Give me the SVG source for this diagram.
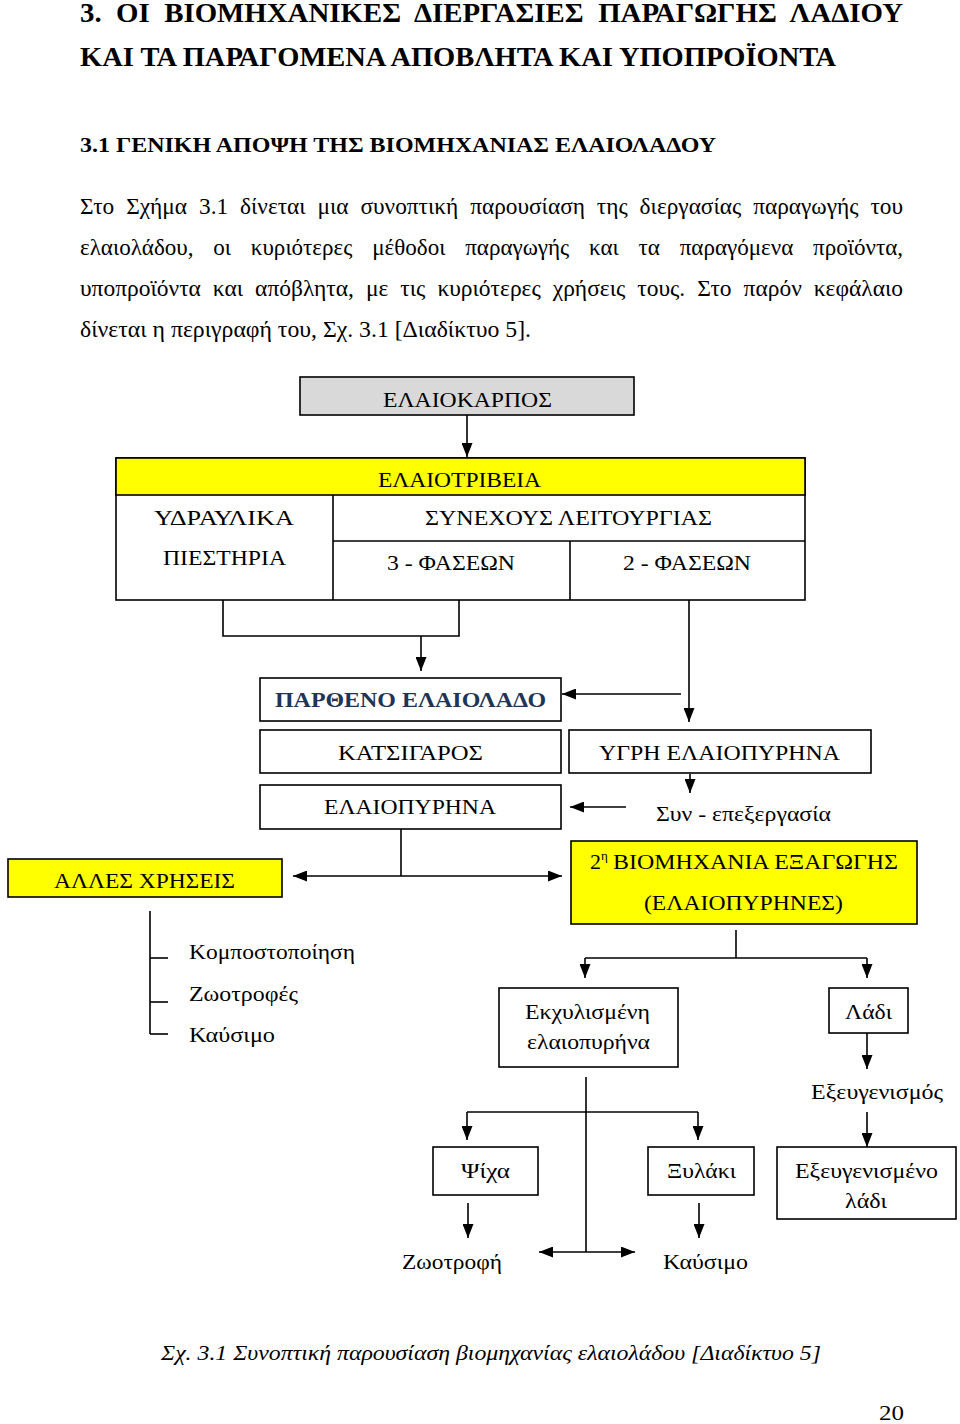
<svg xmlns="http://www.w3.org/2000/svg" width="960" height="1424" viewBox="0 0 960 1424">
<style>
text{font-family:"Liberation Serif","Times New Roman",serif;fill:#000}
.h1{font-size:27px;font-weight:bold;white-space:pre}
.h3{font-size:22px;font-weight:bold}
.p{font-size:23px;word-spacing:6px}
.t{font-size:22px}
.c{font-size:22px;font-style:italic}
.box{fill:#fff;stroke:#000;stroke-width:1.6}
.yel{fill:#ffff00;stroke:#000;stroke-width:1.6}
.gray{fill:#d9d9d9;stroke:#000;stroke-width:1.6}
.ln{fill:none;stroke:#000;stroke-width:1.6}
.ar{fill:none;stroke:#000;stroke-width:1.6;marker-end:url(#ah)}
.navy{fill:#1f3556;font-weight:bold}
</style>
<defs>
<marker id="ah" viewBox="0 0 14 11" refX="14" refY="5.5" markerWidth="14" markerHeight="11" markerUnits="userSpaceOnUse" orient="auto">
<path d="M0,0 L14,5.5 L0,11 z" fill="#000"/>
</marker>
</defs>
<rect width="960" height="1424" fill="#fff"/>

<g id="heading">
<text class="h1" x="80" y="22" textLength="823" lengthAdjust="spacingAndGlyphs" xml:space="preserve">3.  ΟΙ  ΒΙΟΜΗΧΑΝΙΚΕΣ  ΔΙΕΡΓΑΣΙΕΣ  ΠΑΡΑΓΩΓΗΣ  ΛΑΔΙΟΥ</text>
<text class="h1" x="80" y="66" textLength="756" lengthAdjust="spacingAndGlyphs">ΚΑΙ ΤΑ ΠΑΡΑΓΟΜΕΝΑ ΑΠΟΒΛΗΤΑ ΚΑΙ ΥΠΟΠΡΟΪΟΝΤΑ</text>
<text class="h3" x="80" y="152" textLength="636" lengthAdjust="spacingAndGlyphs">3.1 ΓΕΝΙΚΗ ΑΠΟΨΗ ΤΗΣ ΒΙΟΜΗΧΑΝΙΑΣ ΕΛΑΙΟΛΑΔΟΥ</text>
</g>
<g id="paragraph">
<text class="p" x="80" y="214" textLength="823" lengthAdjust="spacingAndGlyphs">Στο Σχήμα 3.1 δίνεται μια συνοπτική παρουσίαση της διεργασίας παραγωγής του</text>
<text class="p" x="80" y="255" textLength="823" lengthAdjust="spacingAndGlyphs" style="word-spacing:14px">ελαιολάδου, οι κυριότερες μέθοδοι παραγωγής και τα παραγόμενα προϊόντα,</text>
<text class="p" x="80" y="296" textLength="823" lengthAdjust="spacingAndGlyphs">υποπροϊόντα και απόβλητα, με τις κυριότερες χρήσεις τους. Στο παρόν κεφάλαιο</text>
<text class="p" x="80" y="337" textLength="451" lengthAdjust="spacingAndGlyphs" style="word-spacing:0">δίνεται η περιγραφή του, Σχ. 3.1 [Διαδίκτυο 5].</text>
</g>

<g id="connectors">
<line class="ar" x1="467" y1="415" x2="467" y2="457"/>
<polyline class="ln" points="223,600 223,636 459,636 459,600"/>
<line class="ar" x1="421" y1="636" x2="421" y2="671"/>
<line class="ar" x1="689" y1="600" x2="689" y2="722"/>
<line class="ar" x1="681" y1="694" x2="562" y2="694"/>
<line class="ar" x1="690" y1="774" x2="690" y2="793"/>
<line class="ar" x1="626" y1="807" x2="570" y2="807"/>
<line class="ln" x1="401" y1="829" x2="401" y2="876"/>
<line class="ar" x1="401" y1="876" x2="293" y2="876"/>
<line class="ar" x1="401" y1="876" x2="562" y2="876"/>
<line class="ln" x1="150" y1="911" x2="150" y2="1034"/>
<line class="ln" x1="150" y1="958" x2="168" y2="958"/>
<line class="ln" x1="150" y1="1002" x2="168" y2="1002"/>
<line class="ln" x1="150" y1="1034" x2="168" y2="1034"/>
<line class="ln" x1="736" y1="930" x2="736" y2="958"/>
<line class="ln" x1="585" y1="958" x2="867" y2="958"/>
<line class="ar" x1="585" y1="958" x2="585" y2="978"/>
<line class="ar" x1="867" y1="958" x2="867" y2="978"/>
<line class="ar" x1="867" y1="1033" x2="867" y2="1069"/>
<line class="ar" x1="867" y1="1112" x2="867" y2="1147"/>
<line class="ln" x1="586" y1="1077" x2="586" y2="1252"/>
<line class="ln" x1="467" y1="1112" x2="698" y2="1112"/>
<line class="ar" x1="467" y1="1112" x2="467" y2="1140"/>
<line class="ar" x1="698" y1="1112" x2="698" y2="1140"/>
<line class="ar" x1="468" y1="1203" x2="468" y2="1238"/>
<line class="ar" x1="699" y1="1203" x2="699" y2="1238"/>
<line class="ar" x1="586" y1="1252" x2="539" y2="1252"/>
<line class="ar" x1="586" y1="1252" x2="635" y2="1252"/>
</g>

<g id="n-elaiokarpos">
<rect class="gray" x="300" y="377" width="334" height="38"/>
<text class="t" x="383" y="407" textLength="169" lengthAdjust="spacingAndGlyphs">ΕΛΑΙΟΚΑΡΠΟΣ</text>
</g>

<g id="n-elaiotriveia">
<rect class="box" x="116" y="458" width="689" height="142"/>
<rect class="yel" x="116" y="458" width="689" height="37"/>
<line class="ln" x1="333" y1="495" x2="333" y2="600"/>
<line class="ln" x1="333" y1="541" x2="805" y2="541"/>
<line class="ln" x1="570" y1="541" x2="570" y2="600"/>
<text class="t" x="378" y="487" textLength="163" lengthAdjust="spacingAndGlyphs">ΕΛΑΙΟΤΡΙΒΕΙΑ</text>
<text class="t" x="154" y="525" textLength="140" lengthAdjust="spacingAndGlyphs">ΥΔΡΑΥΛΙΚΑ</text>
<text class="t" x="163" y="565" textLength="123" lengthAdjust="spacingAndGlyphs">ΠΙΕΣΤΗΡΙΑ</text>
<text class="t" x="425" y="525" textLength="287" lengthAdjust="spacingAndGlyphs">ΣΥΝΕΧΟΥΣ ΛΕΙΤΟΥΡΓΙΑΣ</text>
<text class="t" x="387" y="570" textLength="128" lengthAdjust="spacingAndGlyphs">3 - ΦΑΣΕΩΝ</text>
<text class="t" x="623" y="570" textLength="128" lengthAdjust="spacingAndGlyphs">2 - ΦΑΣΕΩΝ</text>
</g>

<g id="n-partheno">
<rect class="box" x="260" y="678" width="301" height="43"/>
<text class="t navy" x="275" y="707" textLength="271" lengthAdjust="spacingAndGlyphs">ΠΑΡΘΕΝΟ ΕΛΑΙΟΛΑΔΟ</text>
</g>
<g id="n-katsigaros">
<rect class="box" x="260" y="730" width="301" height="43"/>
<text class="t" x="338" y="760" textLength="145" lengthAdjust="spacingAndGlyphs">ΚΑΤΣΙΓΑΡΟΣ</text>
</g>
<g id="n-ygri">
<rect class="box" x="569" y="730" width="302" height="43"/>
<text class="t" x="599" y="760" textLength="241" lengthAdjust="spacingAndGlyphs">ΥΓΡΗ ΕΛΑΙΟΠΥΡΗΝΑ</text>
</g>
<g id="n-elaiopyrina">
<rect class="box" x="260" y="785" width="301" height="44"/>
<text class="t" x="324" y="814" textLength="172" lengthAdjust="spacingAndGlyphs">ΕΛΑΙΟΠΥΡΗΝΑ</text>
</g>
<g id="n-syn">
<text class="t" x="656" y="821" textLength="175" lengthAdjust="spacingAndGlyphs">Συν - επεξεργασία</text>
</g>

<g id="n-alles">
<rect class="yel" x="8" y="859" width="274" height="38"/>
<text class="t" x="54" y="888" textLength="181" lengthAdjust="spacingAndGlyphs">ΑΛΛΕΣ ΧΡΗΣΕΙΣ</text>
</g>
<g id="n-alles-list">
<text class="t" x="189" y="959" textLength="166" lengthAdjust="spacingAndGlyphs">Κομποστοποίηση</text>
<text class="t" x="189" y="1001" textLength="109" lengthAdjust="spacingAndGlyphs">Ζωοτροφές</text>
<text class="t" x="189" y="1042" textLength="86" lengthAdjust="spacingAndGlyphs">Καύσιμο</text>
</g>

<g id="n-viomichania">
<rect class="yel" x="571" y="841" width="346" height="83"/>
<text class="t" x="590" y="869">2</text>
<text x="601" y="860" style="font-size:13px">η</text>
<text class="t" x="613" y="869" textLength="285" lengthAdjust="spacingAndGlyphs">ΒΙΟΜΗΧΑΝΙΑ ΕΞΑΓΩΓΗΣ</text>
<text class="t" x="644" y="910" textLength="199" lengthAdjust="spacingAndGlyphs">(ΕΛΑΙΟΠΥΡΗΝΕΣ)</text>
</g>

<g id="n-ekxylismeni">
<rect class="box" x="499" y="988" width="179" height="79"/>
<text class="t" x="525" y="1019" textLength="125" lengthAdjust="spacingAndGlyphs">Εκχυλισμένη</text>
<text class="t" x="527" y="1049" textLength="123" lengthAdjust="spacingAndGlyphs">ελαιοπυρήνα</text>
</g>
<g id="n-ladi">
<rect class="box" x="829" y="988" width="79" height="45"/>
<text class="t" x="845" y="1019" textLength="47" lengthAdjust="spacingAndGlyphs">Λάδι</text>
</g>
<g id="n-exeygenismos">
<text class="t" x="811" y="1099" textLength="132" lengthAdjust="spacingAndGlyphs">Εξευγενισμός</text>
</g>
<g id="n-psixa">
<rect class="box" x="433" y="1147" width="105" height="48"/>
<text class="t" x="461" y="1178" textLength="49" lengthAdjust="spacingAndGlyphs">Ψίχα</text>
</g>
<g id="n-xylaki">
<rect class="box" x="648" y="1147" width="106" height="48"/>
<text class="t" x="667" y="1178" textLength="69" lengthAdjust="spacingAndGlyphs">Ξυλάκι</text>
</g>
<g id="n-exeygenismeno">
<rect class="box" x="777" y="1147" width="179" height="72"/>
<text class="t" x="795" y="1178" textLength="143" lengthAdjust="spacingAndGlyphs">Εξευγενισμένο</text>
<text class="t" x="845" y="1208" textLength="42" lengthAdjust="spacingAndGlyphs">λάδι</text>
</g>
<g id="n-zootrofi">
<text class="t" x="402" y="1269" textLength="100" lengthAdjust="spacingAndGlyphs">Ζωοτροφή</text>
</g>
<g id="n-kaysimo2">
<text class="t" x="663" y="1269" textLength="85" lengthAdjust="spacingAndGlyphs">Καύσιμο</text>
</g>

<g id="caption">
<text class="c" x="161" y="1360" textLength="660" lengthAdjust="spacingAndGlyphs">Σχ. 3.1 Συνοπτική παρουσίαση βιομηχανίας ελαιολάδου [Διαδίκτυο 5]</text>
<text class="t" x="879" y="1420" textLength="25" lengthAdjust="spacingAndGlyphs">20</text>
</g>
</svg>
